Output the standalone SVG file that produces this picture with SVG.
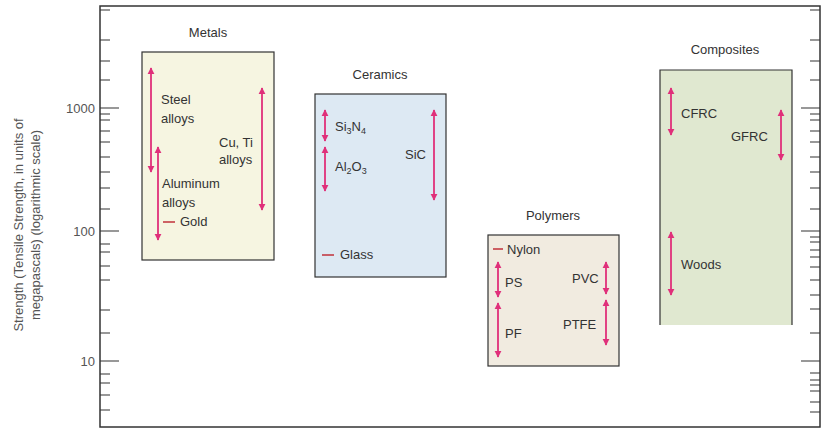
<svg xmlns="http://www.w3.org/2000/svg" width="840" height="432" viewBox="0 0 840 432">
<style>
text{font-family:"Liberation Sans",Arial,sans-serif;font-size:13px;fill:#333}
.ax{fill:#555}
.box{stroke:#333;stroke-width:1.2}
.ar{stroke:#e0307a;stroke-width:1.8;fill:none;marker-start:url(#h);marker-end:url(#h)}
.d{stroke:#c0303a;stroke-width:1.5}
.t{stroke:#333;stroke-width:1.2}
</style>
<defs><marker id="h" viewBox="0 0 10 10" refX="9" refY="5" markerWidth="4" markerHeight="5" orient="auto-start-reverse"><path d="M0,0L10,5L0,10z" fill="#e0307a"/></marker></defs>
<rect x="0" y="0" width="840" height="432" fill="#fff"/>
<g id="axes">
<rect x="100" y="6" width="720" height="421" fill="none" stroke="#333" stroke-width="1.5"/>
<path class="t" d="M100,108h19M100,231h19M100,361h19M820,108h-19M820,231h-19M820,361h-19
M100,10h10M100,40h10M100,61h10M100,80h10M100,114h10M100,120h10M100,131h10M100,142h10M100,157h10M100,172h10M100,188h10M100,209h10M100,244h10M100,252h10M100,266h10M100,280h10M100,310h10M100,333h10M100,374h10M100,383h10M100,395h10M100,410h10
M820,10h-10M820,40h-10M820,61h-10M820,80h-10M820,114h-10M820,120h-10M820,131h-10M820,142h-10M820,157h-10M820,172h-10M820,188h-10M820,209h-10M820,237h-10M820,242h-10M820,250h-10M820,257h-10M820,267h-10M820,280h-10M820,295h-10M820,309h-10M820,333h-10M820,373h-10M820,380h-10M820,385h-10M820,391h-10M820,402h-10M820,412h-10"/>
<text class="ax" x="95" y="113" text-anchor="end">1000</text>
<text class="ax" x="95" y="236" text-anchor="end">100</text>
<text class="ax" x="95" y="366" text-anchor="end">10</text>
<text class="ax" transform="translate(23,225) rotate(-90)" text-anchor="middle">Strength (Tensile Strength, in units of</text>
<text class="ax" transform="translate(40,225) rotate(-90)" text-anchor="middle">megapascals) (logarithmic scale)</text>
</g>
<g id="metals">
<text x="208" y="37" text-anchor="middle">Metals</text>
<rect class="box" x="142" y="52" width="132" height="208" fill="#f6f5e1"/>
<text x="161" y="104">Steel</text><text x="161" y="123">alloys</text>
<text x="219" y="147">Cu, Ti</text><text x="219" y="164">alloys</text>
<text x="162" y="188">Aluminum</text><text x="162" y="207">alloys</text>
<text x="180" y="226">Gold</text>
</g>
<g id="ceramics">
<text x="380" y="79" text-anchor="middle">Ceramics</text>
<rect class="box" x="315" y="94" width="131" height="183" fill="#dde9f3"/>
<text x="335" y="131">Si<tspan font-size="9" dy="3">3</tspan><tspan dy="-3">N</tspan><tspan font-size="9" dy="3">4</tspan></text>
<text x="335" y="171">Al<tspan font-size="9" dy="3">2</tspan><tspan dy="-3">O</tspan><tspan font-size="9" dy="3">3</tspan></text>
<text x="405" y="159">SiC</text>
<text x="340" y="259">Glass</text>
</g>
<g id="polymers">
<text x="553" y="220" text-anchor="middle">Polymers</text>
<rect class="box" x="488" y="235" width="131" height="131" fill="#f1ebe0"/>
<text x="507" y="254">Nylon</text>
<text x="505" y="287">PS</text><text x="505" y="338">PF</text>
<text x="572" y="283">PVC</text><text x="563" y="329">PTFE</text>
</g>
<g id="composites">
<text x="725" y="54" text-anchor="middle">Composites</text>
<path d="M660,325V70H792V325" fill="#e0e8d0" stroke="#333" stroke-width="1.2"/>
<text x="681" y="118">CFRC</text><text x="731" y="141">GFRC</text>
<text x="681" y="269">Woods</text>
</g>
<g id="connectors">
<line class="ar" x1="151" y1="68" x2="151" y2="172"/>
<line class="ar" x1="158" y1="147" x2="158" y2="240"/>
<line class="ar" x1="262" y1="88" x2="262" y2="210"/>
<line class="d" x1="163" y1="222" x2="175" y2="222"/>
<line class="ar" x1="325" y1="110" x2="325" y2="141"/>
<line class="ar" x1="325" y1="147" x2="325" y2="191"/>
<line class="ar" x1="434" y1="110" x2="434" y2="200"/>
<line class="d" x1="322" y1="255" x2="334" y2="255"/>
<line class="d" x1="493" y1="249" x2="503" y2="249"/>
<line class="ar" x1="498" y1="262" x2="498" y2="297"/>
<line class="ar" x1="498" y1="303" x2="498" y2="357"/>
<line class="ar" x1="606" y1="262" x2="606" y2="294"/>
<line class="ar" x1="606" y1="300" x2="606" y2="345"/>
<line class="ar" x1="671" y1="88" x2="671" y2="135"/>
<line class="ar" x1="781" y1="110" x2="781" y2="160"/>
<line class="ar" x1="671" y1="232" x2="671" y2="295"/>
</g>
</svg>
